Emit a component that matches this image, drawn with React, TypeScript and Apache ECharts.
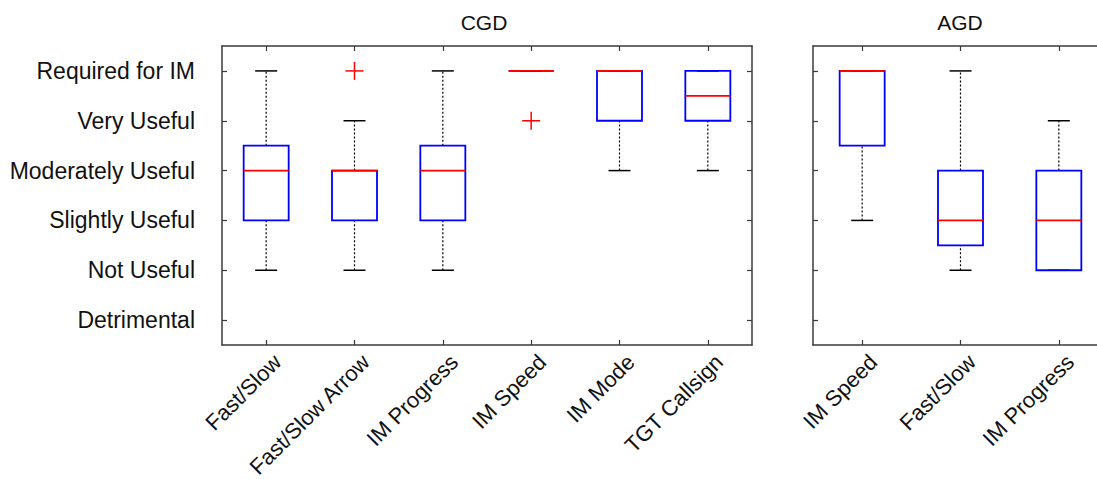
import React, { useEffect, useRef } from "react";
import * as echarts from "echarts";

const levelLabels = [
  "Detrimental",
  "Not Useful",
  "Slightly Useful",
  "Moderately Useful",
  "Very Useful",
  "Required for IM",
];
const levelValues = [0, 1, 2, 3, 4, 5];

const cgdCategories = ["Fast/Slow", "Fast/Slow Arrow", "IM Progress", "IM Speed", "IM Mode", "TGT Callsign"];
const cgdLow = [1, 1, 1, 5, 3, 3];
const cgdQ1 = [2, 2, 2, 5, 4, 4];
const cgdMedian = [3, 3, 3, 5, 5, 4.5];
const cgdQ3 = [3.5, 3, 3.5, 5, 5, 5];
const cgdHigh = [5, 4, 5, 5, 5, 5];
const cgdOutliers = [
  [1, 5],
  [3, 4],
];

const agdCategories = ["IM Speed", "Fast/Slow", "IM Progress"];
const agdLow = [2, 1, 1];
const agdQ1 = [3.5, 1.5, 1];
const agdMedian = [5, 2, 2];
const agdQ3 = [5, 3, 3];
const agdHigh = [5, 5, 4];
const agdOutliers: number[][] = [];

const FONT = "'Liberation Sans', Arial, Helvetica, sans-serif";
const AXIS_COLOR = "#3a3a3a";
const FS = 23;
const X_FS = 22;
const TITLE_FS = 21;

function renderBox(params: any, api: any) {
  const i = api.value(0);
  const x = api.coord([i, api.value(1)])[0];
  const yLow = api.coord([i, api.value(1)])[1];
  const yQ1 = api.coord([i, api.value(2)])[1];
  const yMed = api.coord([i, api.value(3)])[1];
  const yQ3 = api.coord([i, api.value(4)])[1];
  const yHigh = api.coord([i, api.value(5)])[1];
  const hw = 22.5;
  const cw = 11;
  const dash = { stroke: "#000", lineWidth: 1.2, lineDash: [2, 2] };
  const cap = { stroke: "#000", lineWidth: 1.5 };
  return {
    type: "group",
    children: [
      { type: "line", shape: { x1: x, y1: yQ3, x2: x, y2: yHigh }, style: dash },
      { type: "line", shape: { x1: x, y1: yLow, x2: x, y2: yQ1 }, style: dash },
      { type: "line", shape: { x1: x - cw, y1: yHigh, x2: x + cw, y2: yHigh }, style: cap },
      { type: "line", shape: { x1: x - cw, y1: yLow, x2: x + cw, y2: yLow }, style: cap },
      {
        type: "rect",
        shape: { x: x - hw, y: yQ3, width: 2 * hw, height: yQ1 - yQ3 },
        style: { fill: "none", stroke: "#0000ff", lineWidth: 1.8 },
      },
      {
        type: "line",
        shape: { x1: x - hw, y1: yMed, x2: x + hw, y2: yMed },
        style: { stroke: "#ff0000", lineWidth: 1.8 },
      },
    ],
  };
}

function renderPlus(params: any, api: any) {
  const p = api.coord([api.value(0), api.value(1)]);
  const s = 9;
  const st = { stroke: "#ff0000", lineWidth: 1.5 };
  return {
    type: "group",
    children: [
      { type: "line", shape: { x1: p[0] - s, y1: p[1], x2: p[0] + s, y2: p[1] }, style: st },
      { type: "line", shape: { x1: p[0], y1: p[1] - s, x2: p[0], y2: p[1] + s }, style: st },
    ],
  };
}

function xAxisDef(gridIndex: number, cats: string[], pos: "top" | "bottom") {
  return {
    type: "category",
    gridIndex,
    position: pos,
    data: cats,
    boundaryGap: true,
    axisLine: { show: true, onZero: false, lineStyle: { color: AXIS_COLOR, width: 1.5 } },
    axisTick: { show: true, inside: true, alignWithLabel: true, length: 5, lineStyle: { color: AXIS_COLOR, width: 1.2 } },
    axisLabel: {
      show: pos === "bottom",
      rotate: 45,
      margin: 2,
      align: "right",
      verticalAlign: "top",
      padding: [5, 0, 0, 0],
      color: "#111",
      fontSize: X_FS,
      fontFamily: FONT,
      interval: 0,
    },
    splitLine: { show: false },
  };
}

function yAxisDef(gridIndex: number, pos: "left" | "right", labels: boolean) {
  return {
    type: "value",
    gridIndex,
    position: pos,
    min: -0.5,
    max: 5.5,
    axisLine: { show: true, onZero: false, lineStyle: { color: AXIS_COLOR, width: 1.5 } },
    axisTick: { show: true, inside: true, length: 5, customValues: levelValues, lineStyle: { color: AXIS_COLOR, width: 1.2 } },
    axisLabel: {
      show: labels,
      customValues: levelValues,
      margin: 27,
      color: "#111",
      fontSize: FS,
      fontFamily: FONT,
      formatter: (v: number) => levelLabels[Math.round(v)] ?? "",
    },
    splitLine: { show: false },
  };
}

export default function App() {
  const ref = useRef<HTMLDivElement>(null);
  useEffect(() => {
    document.body.style.margin = "0";
    if (!ref.current) return;
    const chart = echarts.init(ref.current, null, { renderer: "svg" });
    const cgdBoxes = cgdCategories.map((_, i) => [i, cgdLow[i], cgdQ1[i], cgdMedian[i], cgdQ3[i], cgdHigh[i]]);
    const agdBoxes = agdCategories.map((_, i) => [i, agdLow[i], agdQ1[i], agdMedian[i], agdQ3[i], agdHigh[i]]);
    chart.setOption({
      animation: false,
      backgroundColor: "#fff",
      textStyle: { fontFamily: FONT },
      grid: [
        { left: 222, top: 46, width: 530, height: 299, containLabel: false, outerBoundsMode: "none" },
        { left: 813, top: 46, width: 295, height: 299, containLabel: false, outerBoundsMode: "none" },
      ],
      graphic: [
        { type: "text", x: 484, y: 22, style: { text: "CGD", font: `${TITLE_FS}px ${FONT}`, fill: "#111", textAlign: "center", textVerticalAlign: "middle" } },
        { type: "text", x: 960, y: 22, style: { text: "AGD", font: `${TITLE_FS}px ${FONT}`, fill: "#111", textAlign: "center", textVerticalAlign: "middle" } },
      ],
      xAxis: [
        xAxisDef(0, cgdCategories, "bottom"),
        xAxisDef(0, cgdCategories, "top"),
        xAxisDef(1, agdCategories, "bottom"),
        xAxisDef(1, agdCategories, "top"),
      ],
      yAxis: [yAxisDef(0, "left", true), yAxisDef(0, "right", false), yAxisDef(1, "left", false), yAxisDef(1, "right", false)],
      series: [
        {
          type: "custom",
          name: "CGD",
          xAxisIndex: 0,
          yAxisIndex: 0,
          renderItem: renderBox,
          encode: { x: 0, y: [1, 2, 3, 4, 5] },
          data: cgdBoxes,
          silent: true,
        },
        {
          type: "custom",
          name: "CGD outliers",
          xAxisIndex: 0,
          yAxisIndex: 0,
          renderItem: renderPlus,
          encode: { x: 0, y: 1 },
          data: cgdOutliers,
          silent: true,
        },
        {
          type: "custom",
          name: "AGD",
          xAxisIndex: 2,
          yAxisIndex: 2,
          renderItem: renderBox,
          encode: { x: 0, y: [1, 2, 3, 4, 5] },
          data: agdBoxes,
          silent: true,
        },
        {
          type: "custom",
          name: "AGD outliers",
          xAxisIndex: 2,
          yAxisIndex: 2,
          renderItem: renderPlus,
          encode: { x: 0, y: 1 },
          data: agdOutliers,
          silent: true,
        },
      ],
    });
    return () => chart.dispose();
  }, []);
  return <div ref={ref} style={{ width: 1097, height: 479 }} />;
}
